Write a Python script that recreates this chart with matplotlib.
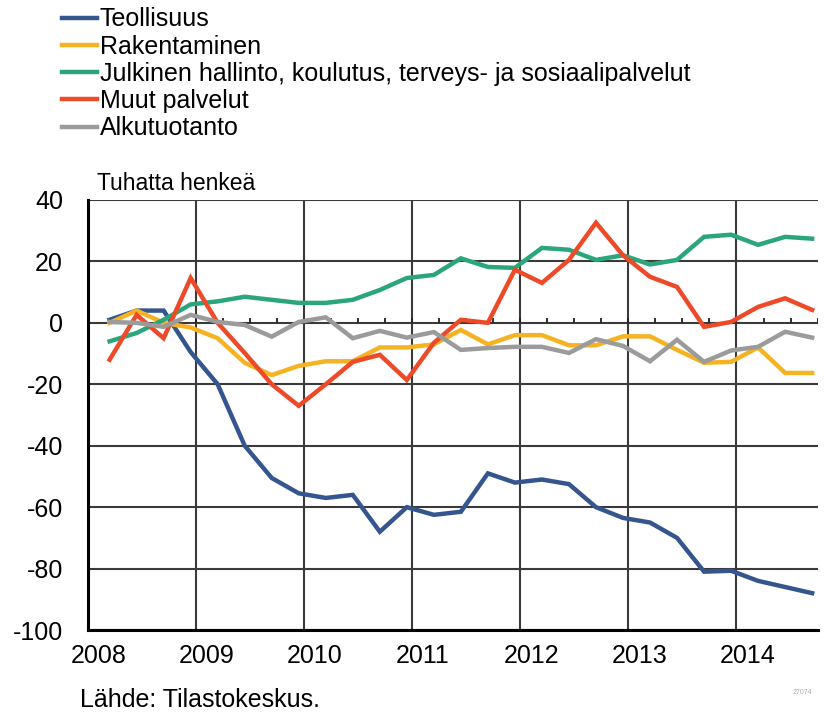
import matplotlib
matplotlib.use("Agg")
import matplotlib.pyplot as plt
import numpy as np

plt.rcParams['font.family'] = ['Liberation Sans', 'DejaVu Sans']

# Quarterly change, thousand persons, 2008Q1 .. 2014Q3
series_names = [
    "Teollisuus",
    "Rakentaminen",
    "Julkinen hallinto, koulutus, terveys- ja sosiaalipalvelut",
    "Muut palvelut",
    "Alkutuotanto",
]
teollisuus = [1, 4, 4, -9.5, -20, -40, -50.5, -55.5, -57, -56, -68, -60, -62.5, -61.5,
              -49, -52, -51, -52.5, -60, -63.5, -65, -70, -81, -80.7, -84, -86, -88]
rakentaminen = [0, 4, 0, -1.5, -5, -13, -17, -14, -12.5, -12.5, -8, -8, -7, -2.3,
                -7, -4, -4, -7.3, -7.3, -4.4, -4.4, -8.8, -13, -12.7, -8, -16.3, -16.3]
julkinen = [-6, -3.3, 1, 6, 7, 8.5, 7.5, 6.5, 6.5, 7.5, 10.7, 14.6, 15.6, 21,
            18.2, 17.9, 24.4, 23.8, 20.5, 22, 19, 20.5, 28, 28.7, 25.4, 28, 27.4]
muut = [-12, 2.6, -5, 14.6, 0, -9.8, -20, -27, -20, -12.7, -10.4, -18.6, -6.5, 1,
        0, 17.3, 13, 20.5, 32.6, 22, 15, 11.7, -1.3, 0.3, 5.2, 8, 4.2]
alkutuotanto = [0.3, 0, -1.3, 2.6, 0.3, -0.7, -4.5, 0.3, 1.8, -5, -2.6, -4.8, -3, -8.8,
                -8.2, -7.8, -7.8, -9.8, -5.3, -7.5, -12.5, -5.5, -12.7, -9, -7.8, -2.9, -4.8]
years = [2008, 2009, 2010, 2011, 2012, 2013, 2014]
yticks = [40, 20, 0, -20, -40, -60, -80, -100]

colors = ['#35558f', '#f5b323', '#2ba57b', '#ec4a28', '#9b9b9b']
all_series = [teollisuus, rakentaminen, julkinen, muut, alkutuotanto]

quarter = np.arange(len(teollisuus))
xpos = years[0] + (quarter + 0.8) / 4.0

fig = plt.figure(figsize=(8.3, 7.14), dpi=100)
ax = fig.add_axes([0.106, 0.1176, 0.879, 0.6023])

# grid lines
for y in yticks:
    ax.axhline(y, color='#3a3a3a', lw=1.5, zorder=1)
for yr in years[1:]:
    ax.axvline(yr, color='#3a3a3a', lw=1.5, zorder=1)

# quarter ticks on the zero line
qticks = np.arange(years[0] + 0.25, 2014.76, 0.25)
ax.vlines(qticks, 0, 1.6, color='#222222', lw=1.3, zorder=1)

handles = []
for vals, c, name in zip(all_series, colors, series_names):
    h, = ax.plot(xpos, vals, color=c, lw=3.2, label=name, zorder=3,
                 solid_joinstyle='miter')
    handles.append(h)

ax.set_xlim(years[0], 2014.75)
ax.set_ylim(-100, 40)
ax.set_yticks(yticks)
ax.set_yticklabels([str(v) for v in yticks], fontsize=18)

# year labels sit a little to the right of the gridlines
ax.set_xticks(years)
ax.set_xticklabels([])
ax.set_xticks([y + 0.1 for y in years], minor=True)
ax.set_xticklabels([str(y) for y in years], minor=True, fontsize=18)
ax.tick_params(axis='y', length=0, pad=18)
ax.tick_params(axis='x', which='both', length=0, pad=10)

for side in ['top', 'right']:
    ax.spines[side].set_visible(False)
ax.spines['left'].set_linewidth(2.2)
ax.spines['bottom'].set_linewidth(2.2)

fig.legend(handles=handles, loc='upper left', bbox_to_anchor=(0.075, 0.9895),
           frameon=False, fontsize=18, handlelength=1.4, handletextpad=0.1,
           labelspacing=0.13, borderpad=0, borderaxespad=0)

fig.text(0.117, 1 - 183 / 714, "Tuhatta henkeä", fontsize=16.5, va='center', ha='left')
fig.text(0.096, 1 - 700 / 714, "Lähde: Tilastokeskus.", fontsize=18, va='center', ha='left')
fig.text(0.955, 1 - 692 / 714, "27074", fontsize=5, color='#aaaaaa', va='center', ha='left')

fig.savefig("out.png", dpi=100)
